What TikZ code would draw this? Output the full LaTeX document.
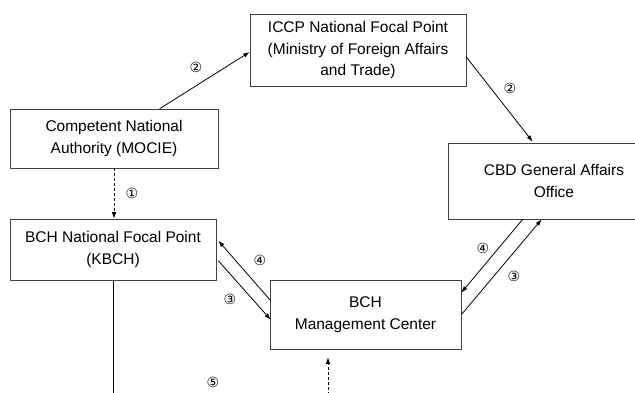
\documentclass[tikz,border=0pt]{standalone}
\usepackage{fontspec}
\setmainfont{Liberation Sans}
\newfontfamily\circfont{DejaVu Sans}
\usetikzlibrary{arrows.meta,calc}
\begin{document}
\begin{tikzpicture}[x=1pt,y=-1pt,
  box/.style={draw=black!75,line width=0.6pt,rectangle,inner sep=0pt,align=center,
    font=\fontsize{15.5}{21.5}\selectfont},
  conn/.style={line width=0.8pt,-{Latex[length=6.5pt,width=4.5pt]}},
  plain/.style={line width=0.8pt},
  num/.style={font=\circfont\fontsize{14}{14}\selectfont,inner sep=0pt}]
\useasboundingbox (0,0) rectangle (635,392);
\clip (0,0) rectangle (635,392);
\node[box,minimum width=216,minimum height=72] (iccp) at (358,50) {ICCP National Focal Point\\(Ministry of Foreign Affairs\\and Trade)};
\node[box,minimum width=208,minimum height=59] (cna) at (114,138.5) {Competent National\\Authority (MOCIE)};
\node[box,minimum width=212,minimum height=76] (cbd) at (554,181) {CBD General Affairs\\Office};
\node[box,minimum width=206,minimum height=61] (nfp) at (113,249.5) {BCH National Focal Point\\(KBCH)};
\node[box,minimum width=191,minimum height=69] (mc) at (365.5,314.5) {BCH\\Management Center};
\coordinate (b1) at (113,400);
\coordinate (b2) at (328,400);
% 1
\draw[conn,densely dashed] (cna.south) -- (cna.south |- nfp.north);
% 2
\draw[conn] ($(cna.north west)+(150,0)$) -- ($(iccp.west)+(0,2)$);
\draw[conn] ($(iccp.east)+(0,7)$) -- ($(cbd.north west)+(85,-1)$);
% 3 / 4 left
\draw[conn] ($(mc.north west)+(1,21)$) -- ($(nfp.north east)+(2,22)$);
\draw[conn] ($(nfp.north east)+(2,42)$) -- ($(mc.north west)+(1,40)$);
% 3 / 4 right
\draw[conn] ($(cbd.south west)+(75,0)$) -- ($(mc.north east)+(0,13)$);
\draw[conn] ($(mc.north east)+(0,35)$) -- ($(cbd.south west)+(94,0)$);
% 5
\draw[plain] (nfp.south) -- (b1);
\draw[conn,densely dashed] (b2) -- ($(mc.south -| b2)+(0,8)$);
% labels
\node[num] (l1) at (132,193) {①};
\node[num] (l2a) at (196,67) {②};
\node[num] (l2b) at (510,88) {②};
\node[num] (l4a) at (260,260) {④};
\node[num] (l3a) at (230,299) {③};
\node[num] (l4b) at (483,248) {④};
\node[num] (l3b) at (514,276) {③};
\node[num] (l5) at (213,382) {⑤};
\end{tikzpicture}
\end{document}
